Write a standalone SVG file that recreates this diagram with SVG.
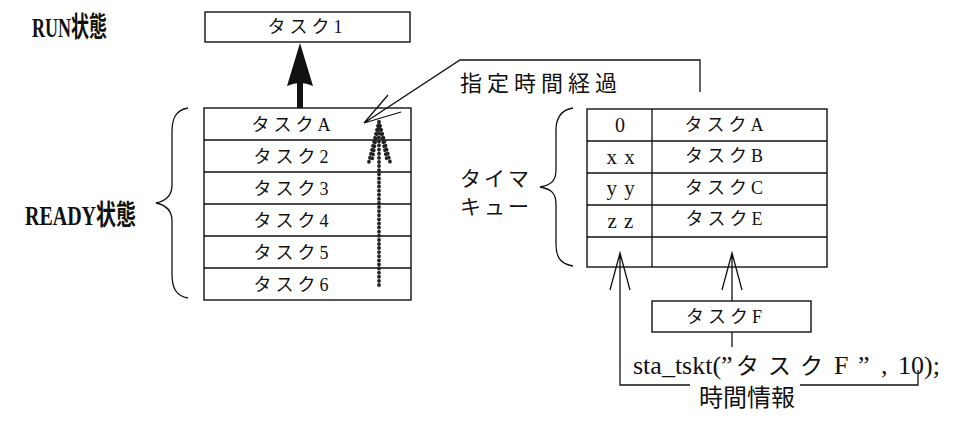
<svg xmlns="http://www.w3.org/2000/svg" width="956" height="432" viewBox="0 0 956 432">
<style>
.bx{fill:#fff;stroke:#111;stroke-width:1.4}
.ln{fill:none;stroke:#111;stroke-width:1.3}
.t{font-family:"Liberation Serif","Noto Sans CJK JP",serif;fill:#111}
.j{font-family:"Noto Sans CJK JP","Liberation Sans",sans-serif;fill:#111}
.b{font-family:"Liberation Serif","Noto Sans CJK JP",serif;font-weight:bold;fill:#111}
.task{font-family:"Liberation Serif","Noto Sans CJK JP",serif;font-size:18px;letter-spacing:4px;fill:#111}
.bead{fill:none;stroke:#222;stroke-width:3.8;stroke-dasharray:0.1 4;stroke-linecap:round}
</style>
<rect width="956" height="432" fill="#fff"/>
<g id="labels">
<text class="b" x="32" y="37" font-size="28" textLength="75" lengthAdjust="spacingAndGlyphs">RUN状態</text>
<text class="b" x="25" y="225" font-size="28" textLength="111" lengthAdjust="spacingAndGlyphs">READY状態</text>
<text class="j" x="460" y="91" font-size="22" letter-spacing="5">指定時間経過</text>
<text class="j" x="460" y="186" font-size="21" letter-spacing="3">タイマ</text>
<text class="j" x="460" y="214" font-size="21" letter-spacing="3">キュー</text>
</g>
<g id="run-task">
<rect class="bx" x="205" y="12" width="205" height="30"/>
<text class="task" x="307" y="33" text-anchor="middle">タスク1</text>
</g>
<g id="ready-queue">
<rect class="bx" x="204" y="108" width="207" height="192"/>
<path class="ln" d="M204 140H411M204 172H411M204 204H411M204 236H411M204 268H411"/>
<text class="task" x="293" y="131" text-anchor="middle">タスクA</text>
<text class="task" x="293" y="163" text-anchor="middle">タスク2</text>
<text class="task" x="293" y="195" text-anchor="middle">タスク3</text>
<text class="task" x="293" y="227" text-anchor="middle">タスク4</text>
<text class="task" x="293" y="259" text-anchor="middle">タスク5</text>
<text class="task" x="293" y="291" text-anchor="middle">タスク6</text>
</g>
<g id="ready-brace">
<path class="ln" d="M188 108C176 110 172 118 172 132V185C172 196 166 201 156 203C166 205 172 210 172 221V274C172 288 176 296 188 298"/>
</g>
<g id="timer-queue">
<rect class="bx" x="587" y="109" width="240" height="158"/>
<path class="ln" d="M652 109V267M587 141H827M587 173H827M587 205H827M587 237H827"/>
<text class="t" x="620" y="132" font-size="20" text-anchor="middle">0</text>
<text class="t" x="621" y="164" font-size="21" text-anchor="middle" letter-spacing="1">x x</text>
<text class="t" x="621" y="195" font-size="21" text-anchor="middle" letter-spacing="1">y y</text>
<text class="t" x="621" y="228" font-size="21" text-anchor="middle" letter-spacing="1">z z</text>
<text class="task" x="726" y="131" text-anchor="middle">タスクA</text>
<text class="task" x="726" y="162" text-anchor="middle">タスクB</text>
<text class="task" x="726" y="194" text-anchor="middle">タスクC</text>
<text class="task" x="726" y="225" text-anchor="middle">タスクE</text>
</g>
<g id="timer-brace">
<path class="ln" d="M573 108C561 110 556 118 556 130V170C556 181 551 185 540 187C551 189 556 193 556 204V244C556 258 561 264 573 266"/>
</g>
<g id="task-f">
<rect class="bx" x="652" y="301" width="159" height="31"/>
<text class="task" x="726" y="323" text-anchor="middle">タスクF</text>
</g>
<g id="call">
<text class="t" y="374" font-size="26"><tspan x="633">sta_tskt(”</tspan><tspan x="736" class="j" font-size="23" letter-spacing="9">タスク</tspan><tspan x="834">F</tspan><tspan x="858">”</tspan><tspan x="881">,</tspan><tspan x="898">10);</tspan></text>
<text class="j" x="699" y="406" font-size="24">時間情報</text>
</g>
<g id="connectors">
<path d="M297 108V80H303V108Z" fill="#111"/>
<path d="M300 43L313 86Q300 80 287 86Z" fill="#111"/>
<path class="bead" d="M379 285V124"/>
<path class="bead" d="M379 122L369 162M379 122L390 162M378 126L372 160M380 126L387 160"/>
<path class="ln" d="M364 123L460 60H700V92M364 123L388 95M364 123L401 112"/>
<path class="ln" d="M620 253V385H690M800 385H918V370M610 290L620 253L630 290"/>
<path class="ln" d="M732 253V301M722 290L732 253L742 290M732 332V347"/>
</g>
</svg>
